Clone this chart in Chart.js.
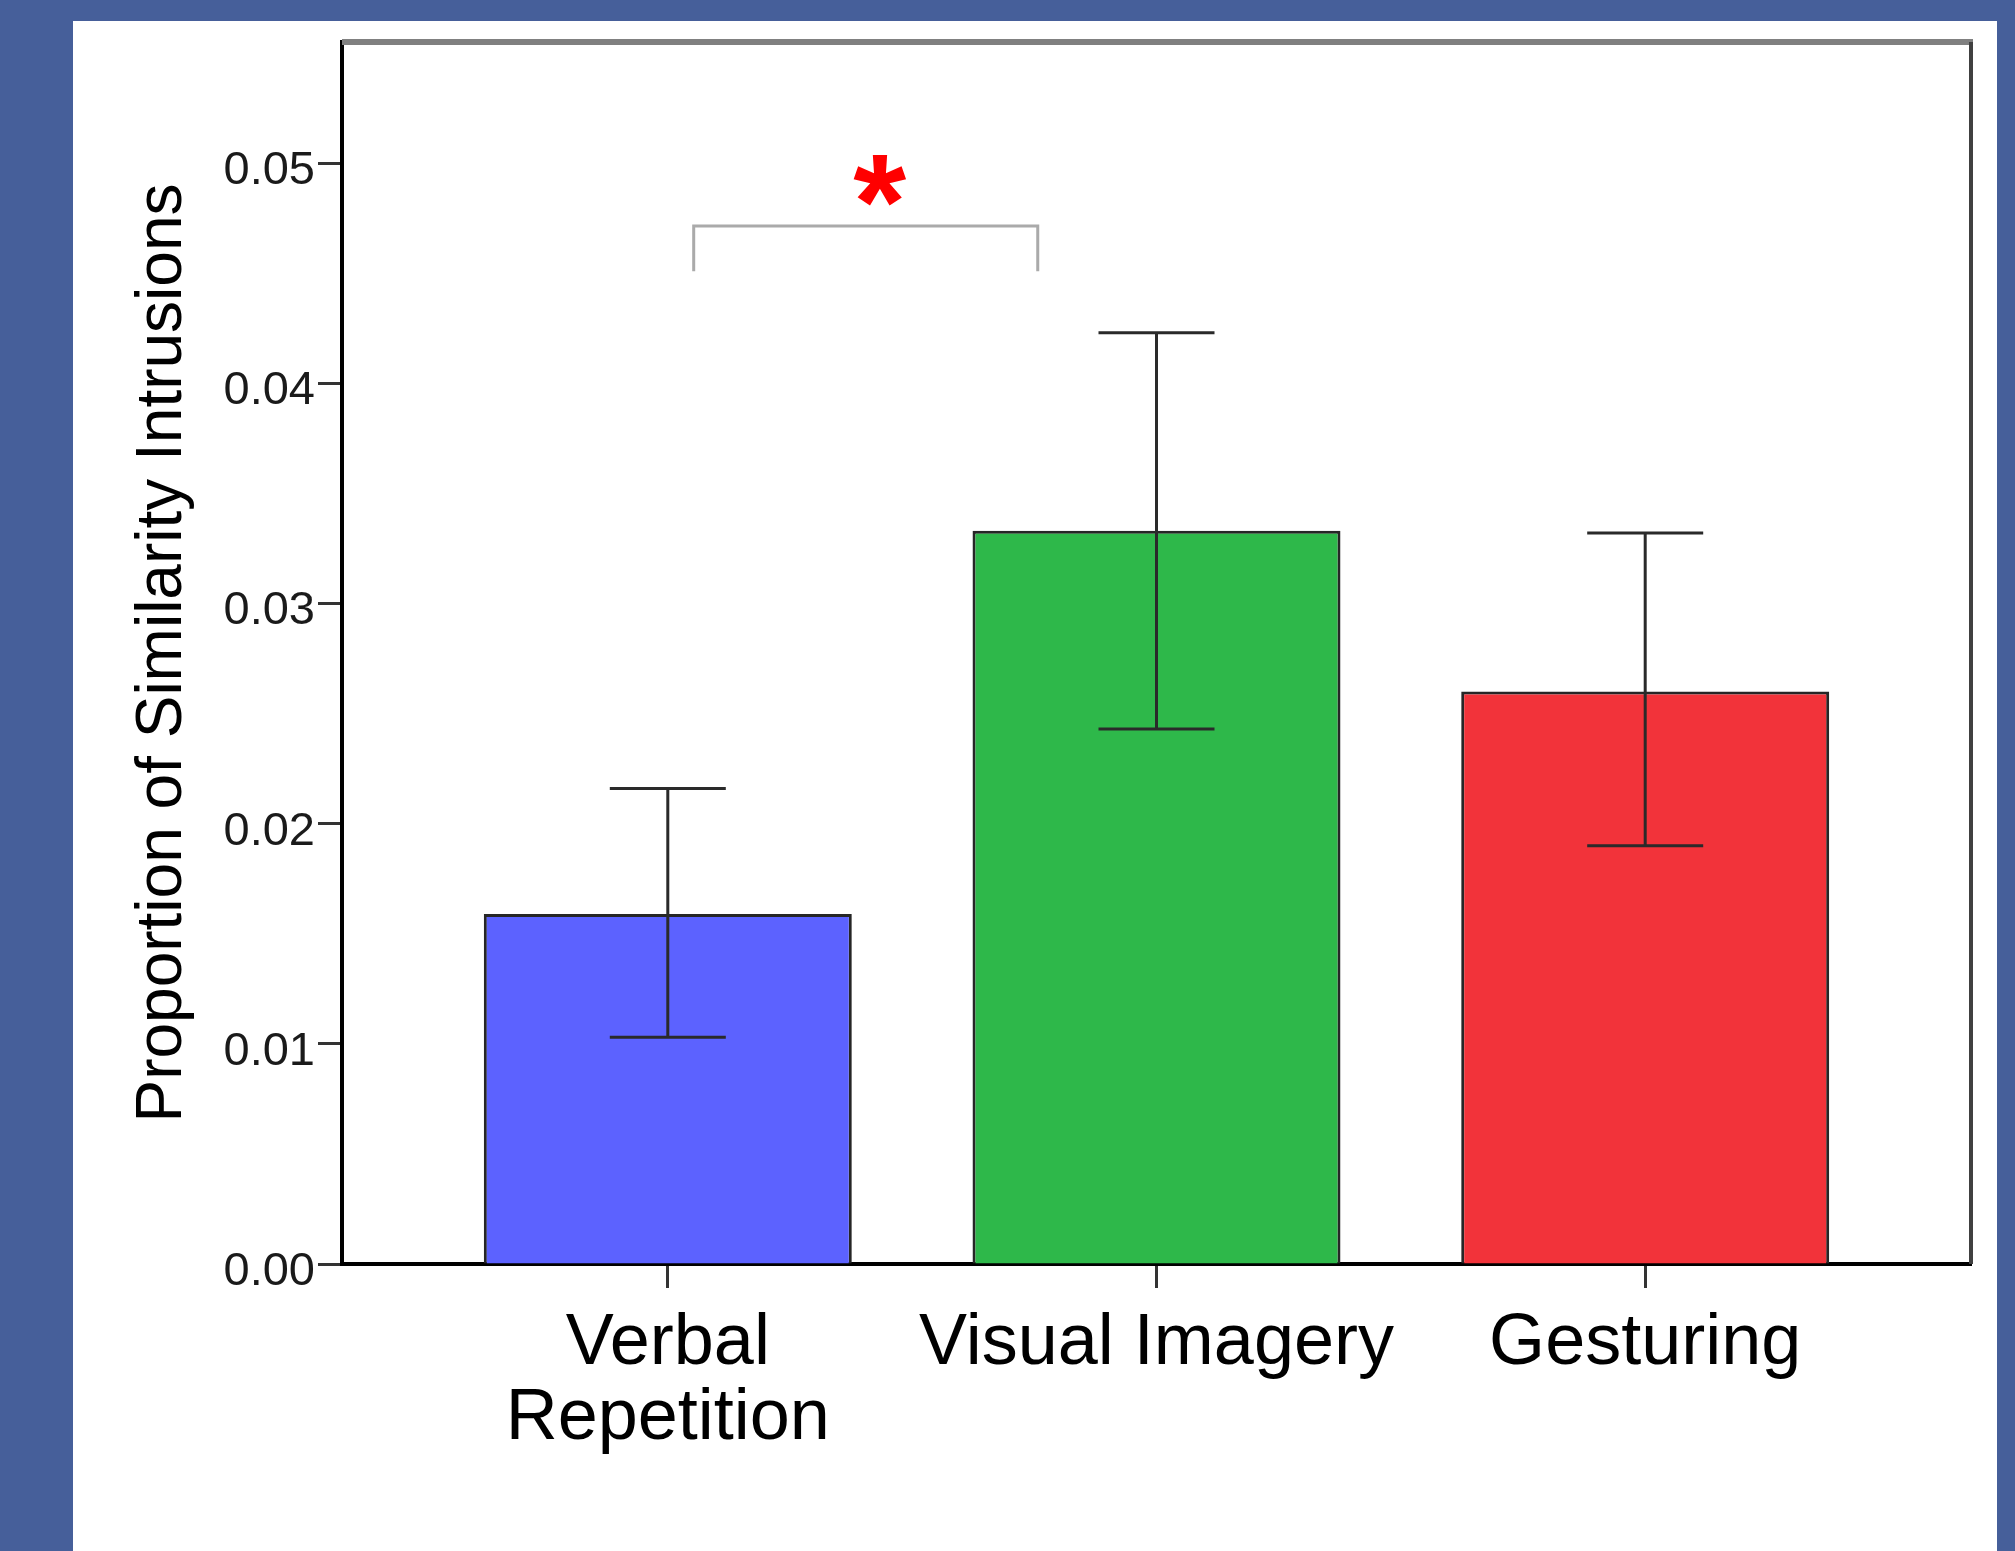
<!DOCTYPE html>
<html>
<head>
<meta charset="utf-8">
<script src="https://cdn.jsdelivr.net/npm/chart.js@4.4.1/dist/chart.umd.min.js"></script>
<style>
  html, body { margin: 0; padding: 0; background: #465f9a; }
  #wrap { position: relative; width: 2015px; height: 1551px; }
  canvas { display: block; }
</style>
</head>
<body>
<div id="wrap"><canvas id="chart" width="2015" height="1551"></canvas></div>
<script>
const categories = [['Verbal', 'Repetition'], ['Visual Imagery'], ['Gesturing']];
const means = [0.0159, 0.0333, 0.0260];
const errLow = [0.0103, 0.0243, 0.0190];
const errHigh = [0.0216, 0.0423, 0.0332];
const barColors = ['#5c62ff', '#2eb84a', '#f2333a'];
const yTicks = [0, 0.01, 0.02, 0.03, 0.04, 0.05];
// bracket between bar 1 and bar 2: [xStart, xEnd, yTop, yFoot]
const bracket = [0.053, 0.757, 0.04714, 0.04509];
const starLabel = '*';

// background: blue frame with white panel, plus top/right frame lines
const backdrop = {
  id: 'backdrop',
  beforeDraw(chart) {
    const ctx = chart.ctx;
    ctx.save();
    ctx.fillStyle = '#465f9a';
    ctx.fillRect(0, 0, chart.width, chart.height);
    ctx.fillStyle = '#ffffff';
    ctx.fillRect(73, 21, 1924, chart.height - 21);
    ctx.restore();
  },
  afterDraw(chart) {
    const { ctx, chartArea: a } = chart;
    ctx.save();
    ctx.strokeStyle = '#808080';
    ctx.lineWidth = 6;
    ctx.beginPath();
    ctx.moveTo(a.left, a.top);
    ctx.lineTo(a.right + 2, a.top);
    ctx.stroke();
    ctx.strokeStyle = '#404040';
    ctx.lineWidth = 4;
    ctx.beginPath();
    ctx.moveTo(a.right, a.top);
    ctx.lineTo(a.right, a.bottom);
    ctx.stroke();
    ctx.restore();
  }
};

const errorBars = {
  id: 'errorBars',
  afterDatasetsDraw(chart) {
    const { ctx, scales: { x, y } } = chart;
    const cap = 58;
    ctx.save();
    ctx.strokeStyle = '#2a2a2a';
    ctx.lineWidth = 3;
    means.forEach((m, i) => {
      const px = x.getPixelForValue(i);
      const top = y.getPixelForValue(errHigh[i]);
      const bot = y.getPixelForValue(errLow[i]);
      ctx.beginPath();
      ctx.moveTo(px, top);
      ctx.lineTo(px, bot);
      ctx.moveTo(px - cap, top);
      ctx.lineTo(px + cap, top);
      ctx.moveTo(px - cap, bot);
      ctx.lineTo(px + cap, bot);
      ctx.stroke();
    });

    // significance bracket
    const x1 = x.getPixelForValue(bracket[0]);
    const x2 = x.getPixelForValue(bracket[1]);
    const yt = y.getPixelForValue(bracket[2]);
    const yf = y.getPixelForValue(bracket[3]);
    ctx.strokeStyle = '#aaaaaa';
    ctx.lineWidth = 3;
    ctx.beginPath();
    ctx.moveTo(x1, yf);
    ctx.lineTo(x1, yt);
    ctx.lineTo(x2, yt);
    ctx.lineTo(x2, yf);
    ctx.stroke();

    ctx.fillStyle = '#ff0000';
    ctx.font = 'bold 136px "Liberation Sans", Arial, sans-serif';
    ctx.textAlign = 'center';
    ctx.textBaseline = 'middle';
    ctx.fillText(starLabel, (x1 + x2) / 2 + 14, yt - 16);
    ctx.restore();
  }
};

new Chart(document.getElementById('chart'), {
  type: 'bar',
  data: {
    datasets: [{
      data: means.map((v, i) => ({ x: i, y: v })),
      backgroundColor: barColors,
      borderColor: '#262626',
      borderWidth: 3,
      borderSkipped: 'start',
      categoryPercentage: 1,
      barPercentage: 0.753
    }]
  },
  options: {
    responsive: false,
    animation: false,
    layout: { padding: { left: 0, top: 42, right: 44, bottom: 0 } },
    plugins: {
      legend: { display: false },
      tooltip: { enabled: false }
    },
    scales: {
      x: {
        type: 'linear',
        offset: false,
        min: -2 / 3,
        max: 2 + 2 / 3,
        afterBuildTicks: scale => {
          scale.ticks = categories.map((c, i) => ({ value: i }));
        },
        afterFit: scale => { scale.height = 287; },
        grid: {
          display: true,
          offset: false,
          drawOnChartArea: false,
          drawTicks: true,
          tickLength: 24,
          tickColor: '#333333',
          tickWidth: 3
        },
        border: { display: true, color: '#000000', width: 4 },
        ticks: {
          autoSkip: false,
          maxRotation: 0,
          padding: 18,
          color: '#000000',
          font: { family: '"Liberation Sans", Arial, sans-serif', size: 72, lineHeight: 1.05 },
          callback: (value, index) => categories[index]
        }
      },
      y: {
        type: 'linear',
        min: 0,
        max: 0.0555,
        afterBuildTicks: scale => {
          scale.ticks = yTicks.map(v => ({ value: v }));
        },
        afterFit: scale => { scale.width = 342; },
        grid: {
          display: true,
          drawOnChartArea: false,
          drawTicks: true,
          tickLength: 24,
          tickColor: '#333333',
          tickWidth: 3
        },
        border: { display: true, color: '#000000', width: 4 },
        ticks: {
          padding: 3,
          labelOffset: 8,
          color: '#1a1a1a',
          font: { family: '"Liberation Sans", Arial, sans-serif', size: 47 },
          callback: value => value.toFixed(2)
        },
        title: {
          display: true,
          text: 'Proportion of Similarity Intrusions',
          color: '#000000',
          padding: { top: 125, bottom: 0 },
          font: { family: '"Liberation Sans", Arial, sans-serif', size: 64, lineHeight: 1.2 }
        }
      }
    }
  },
  plugins: [backdrop, errorBars]
});
</script>
</body>
</html>
